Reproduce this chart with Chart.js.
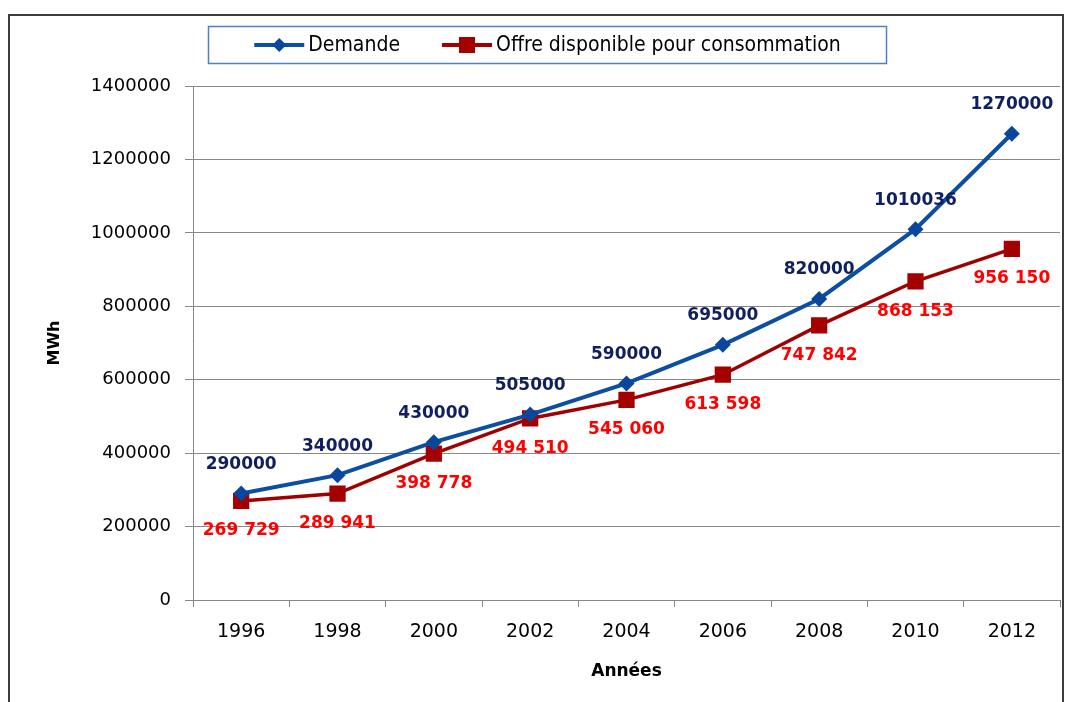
<!DOCTYPE html>
<html>
<head>
<meta charset="utf-8">
<script src="https://cdn.jsdelivr.net/npm/chart.js@4/dist/chart.umd.min.js"></script>
<style>
  html, body { margin: 0; padding: 0; background: #fff; }
  #wrap { width: 1075px; height: 702px; }
</style>
</head>
<body>
<div id="wrap"><canvas id="chart" width="1075" height="702"></canvas></div>
<script>
// données
const years = ['1996', '1998', '2000', '2002', '2004', '2006', '2008', '2010', '2012'];
const demande = [290000, 340000, 430000, 505000, 590000, 695000, 820000, 1010036, 1270000];
const offre = [269729, 289941, 398778, 494510, 545060, 613598, 747842, 868153, 956150];
const yTicks = [0, 200000, 400000, 600000, 800000, 1000000, 1200000, 1400000];

const BLUE = '#0B4EA2';
const RED = '#A00000';

// cadre autour du graphique
const framePlugin = {
    id: 'frame',
    beforeDraw(chart) {
        const ctx = chart.ctx;
        ctx.save();
        ctx.fillStyle = '#fff';
        ctx.fillRect(0, 0, chart.width, chart.height);
        ctx.strokeStyle = '#3c3c3c';
        ctx.lineWidth = 2;
        ctx.strokeRect(9, 15, 1054, 720);
        ctx.restore();
    }
};

// étiquettes de valeurs
const labelPlugin = {
    id: 'valueLabels',
    afterDatasetsDraw(chart) {
        const ctx = chart.ctx;
        ctx.save();
        ctx.font = 'bold 17px "DejaVu Sans"';
        ctx.textAlign = 'center';
        ctx.textBaseline = 'middle';
        chart.data.datasets.forEach((ds, i) => {
            const meta = chart.getDatasetMeta(i);
            meta.data.forEach((pt, j) => {
                const v = ds.data[j];
                let txt, dy;
                if (i === 0) {
                    txt = String(v);
                    ctx.fillStyle = '#10205E';
                    dy = -29;
                } else {
                    txt = String(v).replace(/\B(?=(\d{3})+(?!\d))/g, ' ');
                    ctx.fillStyle = '#FF0000';
                    dy = 30;
                }
                ctx.fillText(txt, pt.x, pt.y + dy);
            });
        });
        ctx.restore();
    }
};

// légende encadrée
const legendPlugin = {
    id: 'boxLegend',
    afterDraw(chart) {
        const ctx = chart.ctx;
        const box = { x: 208.5, y: 26.5, w: 678, h: 37 };
        ctx.save();
        ctx.strokeStyle = '#4F81BD';
        ctx.lineWidth = 1.5;
        ctx.strokeRect(box.x, box.y, box.w, box.h);

        ctx.font = '21px "DejaVu Sans Condensed", "DejaVu Sans"';
        ctx.textBaseline = 'middle';
        const lineW = 50, gapText = 4, gapItem = 42;
        const items = chart.data.datasets.map(ds => ({
            ds: ds,
            w: lineW + gapText + ctx.measureText(ds.label).width
        }));
        const total = items.reduce((s, it) => s + it.w, 0) + gapItem * (items.length - 1);
        let x = box.x + box.w / 2 - total / 2;
        const y = box.y + box.h / 2;
        items.forEach(it => {
            const ds = it.ds;
            ctx.strokeStyle = ds.borderColor;
            ctx.lineWidth = 4;
            ctx.beginPath();
            ctx.moveTo(x, y);
            ctx.lineTo(x + lineW, y);
            ctx.stroke();
            ctx.fillStyle = ds.pointBackgroundColor;
            const cx = x + lineW / 2;
            ctx.beginPath();
            if (ds.pointStyle === 'rectRot') {
                ctx.moveTo(cx, y - 7);
                ctx.lineTo(cx + 7, y);
                ctx.lineTo(cx, y + 7);
                ctx.lineTo(cx - 7, y);
                ctx.closePath();
            } else {
                ctx.rect(cx - 8, y - 8, 16, 16);
            }
            ctx.fill();
            ctx.fillStyle = '#000';
            ctx.fillText(ds.label, x + lineW + gapText, y + 1);
            x += it.w + gapItem;
        });
        ctx.restore();
    }
};

new Chart(document.getElementById('chart'), {
    type: 'line',
    data: {
        labels: years,
        datasets: [
            {
                label: 'Demande',
                data: demande,
                borderColor: BLUE,
                borderWidth: 4,
                pointStyle: 'rectRot',
                pointRadius: 8,
                pointBackgroundColor: '#0A469C',
                pointBorderWidth: 0,
                tension: 0
            },
            {
                label: 'Offre disponible pour consommation',
                data: offre,
                borderColor: RED,
                borderWidth: 3.5,
                pointStyle: 'rect',
                pointRadius: 11.5,
                pointBackgroundColor: '#A50000',
                pointBorderWidth: 0,
                tension: 0
            }
        ]
    },
    options: {
        responsive: false,
        animation: false,
        devicePixelRatio: 1,
        layout: { padding: { top: 86, left: 12, right: 15, bottom: 0 } },
        plugins: {
            legend: { display: false },
            tooltip: { enabled: false }
        },
        scales: {
            x: {
                type: 'category',
                offset: true,
                afterFit(scale) { scale.height = 102; },
                grid: {
                    offset: true,
                    drawOnChartArea: false,
                    drawTicks: true,
                    tickLength: 7,
                    color: '#888'
                },
                border: { color: '#888', width: 1 },
                ticks: {
                    color: '#000',
                    font: { family: 'DejaVu Sans', size: 19 },
                    padding: 14,
                    maxRotation: 0
                },
                title: {
                    display: true,
                    text: 'Années',
                    color: '#000',
                    font: { family: 'DejaVu Sans', size: 17, weight: 'bold' },
                    padding: { top: 4, bottom: 20 }
                }
            },
            y: {
                min: 0,
                max: 1400000,
                afterFit(scale) { scale.width = 181; },
                afterBuildTicks(scale) { scale.ticks = yTicks.map(v => ({ value: v })); },
                grid: {
                    color: '#888',
                    lineWidth: 1,
                    tickLength: 8
                },
                border: { color: '#888', width: 1 },
                ticks: {
                    color: '#000',
                    font: { family: 'DejaVu Sans', size: 18 },
                    padding: 14,
                    callback: v => String(v)
                },
                title: {
                    display: true,
                    text: 'MWh',
                    color: '#000',
                    font: { family: 'DejaVu Sans', size: 16, weight: 'bold' },
                    padding: { top: 33, bottom: 0 }
                }
            }
        }
    },
    plugins: [framePlugin, labelPlugin, legendPlugin]
});
</script>
</body>
</html>
